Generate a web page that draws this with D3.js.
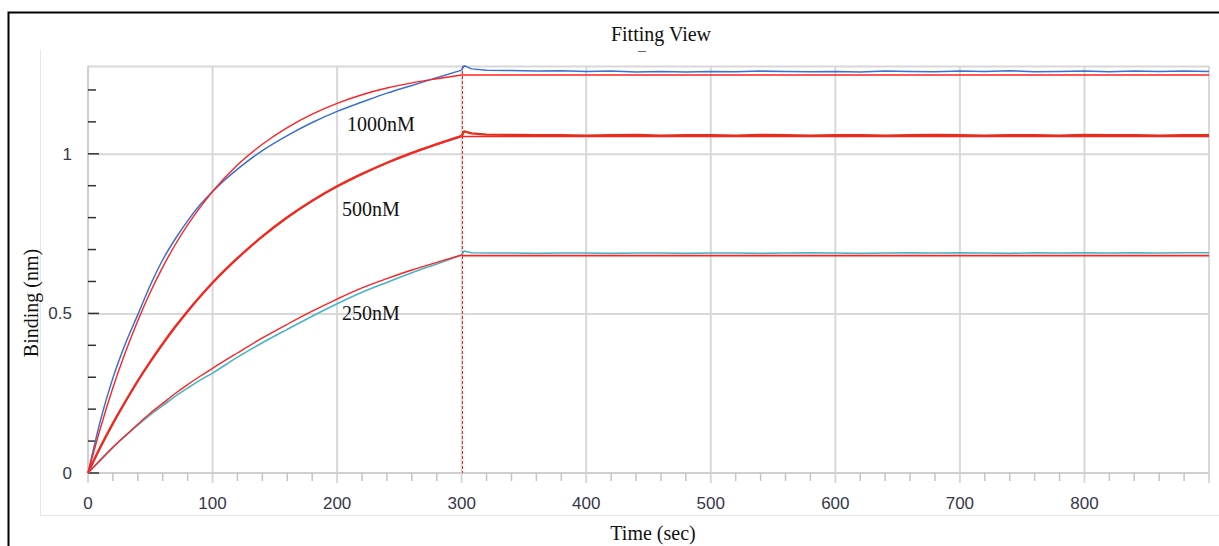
<!DOCTYPE html>
<head>
    <meta charset="utf-8">
</head>

<style type="text/css">
    body { margin: 0; background: #fff; }
    svg { display: block; }
    .tick-label { font: 17px "Liberation Sans", Arial, sans-serif; fill: #36364a; }
    .serif { font-family: "Liberation Serif", "Times New Roman", serif; fill: #111; }
    .grid line { stroke: #d8d8d8; stroke-width: 2; }
    .grid path { display: none; }
    .line { fill: none; stroke-linejoin: round; }
</style>

<body>
    <svg id="chart" width="1219" height="546"></svg>
</body>

<script src="https://cdn.jsdelivr.net/npm/d3@7/dist/d3.min.js"></script>

<script>

// association phase, seconds
var assocTimes = [0, 10, 20, 30, 40, 50, 60, 70, 80, 90, 100, 120, 140, 160, 180, 200, 220, 240, 260, 280, 300];

var data1000 = [0, 0.165, 0.298, 0.405, 0.496, 0.588, 0.668, 0.733, 0.790, 0.840, 0.882, 0.952, 1.010, 1.057, 1.098, 1.133, 1.162, 1.190, 1.214, 1.238, 1.262];
var fit1000  = [0, 0.141, 0.267, 0.378, 0.477, 0.566, 0.645, 0.715, 0.777, 0.832, 0.882, 0.965, 1.030, 1.082, 1.124, 1.158, 1.185, 1.206, 1.222, 1.235, 1.247];

var data500 = [0, 0.082, 0.156, 0.224, 0.289, 0.349, 0.405, 0.458, 0.507, 0.553, 0.596, 0.673, 0.741, 0.801, 0.853, 0.898, 0.937, 0.972, 1.003, 1.030, 1.056];
var fit500  = [0, 0.079, 0.153, 0.222, 0.287, 0.347, 0.404, 0.456, 0.506, 0.552, 0.595, 0.672, 0.740, 0.800, 0.852, 0.897, 0.936, 0.971, 1.001, 1.029, 1.054];

var data250 = [0, 0.042, 0.081, 0.116, 0.150, 0.182, 0.211, 0.240, 0.266, 0.291, 0.313, 0.363, 0.408, 0.450, 0.491, 0.530, 0.566, 0.597, 0.627, 0.655, 0.683];
var fit250  = [0, 0.040, 0.080, 0.117, 0.153, 0.187, 0.218, 0.249, 0.277, 0.303, 0.328, 0.376, 0.423, 0.466, 0.507, 0.545, 0.580, 0.609, 0.636, 0.660, 0.683];

// dissociation phase (measured), seconds
var dissTimes = [300, 302, 308, 320, 340, 360, 380, 400, 420, 440, 460, 480, 500, 520, 540, 560, 580, 600,
                 620, 640, 660, 680, 700, 720, 740, 760, 780, 800, 820, 840, 860, 880, 900];

var diss1000 = [1.262, 1.276, 1.266, 1.262, 1.261, 1.259, 1.260, 1.258, 1.259, 1.256, 1.258, 1.256, 1.258, 1.257, 1.259, 1.258, 1.257,
                1.258, 1.256, 1.259, 1.258, 1.257, 1.259, 1.258, 1.260, 1.257, 1.258, 1.259, 1.257, 1.259, 1.258, 1.259, 1.258];
var diss500  = [1.056, 1.070, 1.064, 1.060, 1.059, 1.058, 1.058, 1.057, 1.058, 1.059, 1.057, 1.058, 1.058, 1.057, 1.059, 1.058, 1.057,
                1.058, 1.058, 1.057, 1.058, 1.059, 1.058, 1.057, 1.058, 1.058, 1.057, 1.059, 1.058, 1.058, 1.057, 1.058, 1.058];
var diss250  = [0.683, 0.695, 0.690, 0.689, 0.689, 0.688, 0.689, 0.689, 0.688, 0.689, 0.689, 0.688, 0.689, 0.689, 0.688, 0.689, 0.690,
                0.689, 0.688, 0.689, 0.690, 0.689, 0.690, 0.689, 0.688, 0.690, 0.689, 0.690, 0.689, 0.690, 0.689, 0.690, 0.690];

// fitted plateau after the switch at 300 s
var fitTimesDiss = [300, 900];
var plateau1000 = [1.247, 1.247];
var plateau500  = [1.054, 1.054];
var plateau250  = [0.681, 0.681];

var xTicks = [0, 100, 200, 300, 400, 500, 600, 700, 800];
var yTickLabels = [0, 0.5, 1];
var seriesLabels = ["1000nM", "500nM", "250nM"];

var svg = d3.select("#chart");

var plotLeft = 88, plotRight = 1209, plotTop = 66, plotBottom = 473;

var xscale = d3.scaleLinear().domain([0, 900]).range([plotLeft, plotRight]);
var yscale = d3.scaleLinear().domain([0, 1.275]).range([plotBottom, plotTop]);

function zip(ts, vs) {
    return ts.map(function(t, i) { return {t: t, v: vs[i]}; });
}

// outer frame + faint cover box
svg.append("path")
    .attr("d", "M8.5,546V12.5H1219")
    .attr("fill", "none")
    .attr("stroke", "#000")
    .attr("stroke-width", 2);

svg.append("path")
    .attr("d", "M40.5,50V515.5H1219")
    .attr("fill", "none")
    .attr("stroke", "#e6e6e6")
    .attr("stroke-width", 1);

// vertical gridlines (they run a bit past the axis, like the major ticks)
svg.append("g").selectAll("line")
    .data(xTicks.concat([900]))
    .enter().append("line")
    .attr("x1", function(d) { return xscale(d); })
    .attr("x2", function(d) { return xscale(d); })
    .attr("y1", plotTop)
    .attr("y2", plotBottom + 10)
    .attr("stroke", "#d8d8d8")
    .attr("stroke-width", 2);

// horizontal gridlines
svg.append("g")
    .attr("class", "grid")
    .attr("transform", "translate(" + plotLeft + ",0)")
    .call(d3.axisRight(yscale).tickValues([0.5, 1, 1.275]).tickSize(plotRight - plotLeft).tickFormat(""));

// plot frame lines
svg.append("line").attr("x1", plotLeft).attr("x2", plotRight).attr("y1", plotBottom).attr("y2", plotBottom)
    .attr("stroke", "#cfcfcf").attr("stroke-width", 2);
svg.append("line").attr("x1", plotLeft).attr("x2", plotLeft).attr("y1", plotTop).attr("y2", plotBottom)
    .attr("stroke", "#cfcfcf").attr("stroke-width", 2);

// x minor ticks every 20 s
var minorX = d3.range(20, 900, 20).filter(function(d) { return d % 100 != 0; });
svg.append("g").selectAll("line")
    .data(minorX)
    .enter().append("line")
    .attr("x1", function(d) { return xscale(d); })
    .attr("x2", function(d) { return xscale(d); })
    .attr("y1", plotBottom)
    .attr("y2", plotBottom + 8)
    .attr("stroke", "#c4c4c4")
    .attr("stroke-width", 1.5);

// x tick labels
svg.append("g").selectAll("text")
    .data(xTicks)
    .enter().append("text")
    .attr("class", "tick-label")
    .attr("x", function(d) { return xscale(d); })
    .attr("y", 509)
    .attr("text-anchor", "middle")
    .text(function(d) { return d; });

// y ticks every 0.1, longer at labelled values
var yMinor = d3.range(0, 13).map(function(i) { return i / 10; });
svg.append("g").selectAll("line")
    .data(yMinor)
    .enter().append("line")
    .attr("x1", plotLeft)
    .attr("x2", function(d, i) { return i % 5 == 0 ? plotLeft + 11 : plotLeft + 8; })
    .attr("y1", function(d) { return yscale(d); })
    .attr("y2", function(d) { return yscale(d); })
    .attr("stroke", "#333")
    .attr("stroke-width", 1.5);

svg.append("g").selectAll("text")
    .data(yTickLabels)
    .enter().append("text")
    .attr("class", "tick-label")
    .attr("x", 72)
    .attr("y", function(d) { return yscale(d) + 6; })
    .attr("text-anchor", "end")
    .text(function(d) { return d; });

// switch line at 300 s
var switchX = Math.round(xscale(300)) + 0.5;
svg.append("line")
    .attr("x1", switchX).attr("x2", switchX)
    .attr("y1", plotTop).attr("y2", plotBottom)
    .attr("stroke", "#ff2020")
    .attr("stroke-width", 1)
    .attr("stroke-dasharray", "3,2");

var smooth = d3.line()
    .curve(d3.curveMonotoneX)
    .x(function(d) { return xscale(d.t); })
    .y(function(d) { return yscale(d.v); });

var straight = d3.line()
    .x(function(d) { return xscale(d.t); })
    .y(function(d) { return yscale(d.v); });

function drawData(assoc, diss, color, width) {
    svg.append("path").attr("class", "line")
        .attr("stroke", color).attr("stroke-width", width)
        .attr("d", smooth(zip(assocTimes, assoc)));
    svg.append("path").attr("class", "line")
        .attr("stroke", color).attr("stroke-width", width)
        .attr("d", straight(zip(dissTimes, diss)));
}

function drawFit(assoc, plateau) {
    svg.append("path").attr("class", "line")
        .attr("stroke", "#ff2222").attr("stroke-width", 1.4)
        .attr("d", smooth(zip(assocTimes, assoc)));
    svg.append("path").attr("class", "line")
        .attr("stroke", "#ff2222").attr("stroke-width", 1.6)
        .attr("d", straight(zip(fitTimesDiss, plateau)));
}

drawData(data1000, diss1000, "#3b6fd4", 1.5);
drawData(data500, diss500, "#e0301a", 2.3);
drawData(data250, diss250, "#47b4c9", 1.6);

drawFit(fit1000, plateau1000);
drawFit(fit500, plateau500);
drawFit(fit250, plateau250);

// concentration labels
var labelPos = [[347, 131], [342, 216], [342, 320]];
svg.append("g").selectAll("text")
    .data(seriesLabels)
    .enter().append("text")
    .attr("class", "serif")
    .attr("font-size", 20)
    .attr("x", function(d, i) { return labelPos[i][0]; })
    .attr("y", function(d, i) { return labelPos[i][1]; })
    .text(function(d) { return d; });

// titles
svg.append("text").attr("class", "serif").attr("font-size", 20)
    .attr("x", 661).attr("y", 41).attr("text-anchor", "middle")
    .text("Fitting View");
svg.append("line").attr("x1", 638).attr("x2", 646).attr("y1", 51.5).attr("y2", 51.5)
    .attr("stroke", "#666").attr("stroke-width", 1);

svg.append("text").attr("class", "serif").attr("font-size", 20)
    .attr("x", 653).attr("y", 540).attr("text-anchor", "middle")
    .text("Time (sec)");

svg.append("text").attr("class", "serif").attr("font-size", 20)
    .attr("transform", "translate(38,303) rotate(-90)")
    .attr("text-anchor", "middle")
    .text("Binding (nm)");

</script>
